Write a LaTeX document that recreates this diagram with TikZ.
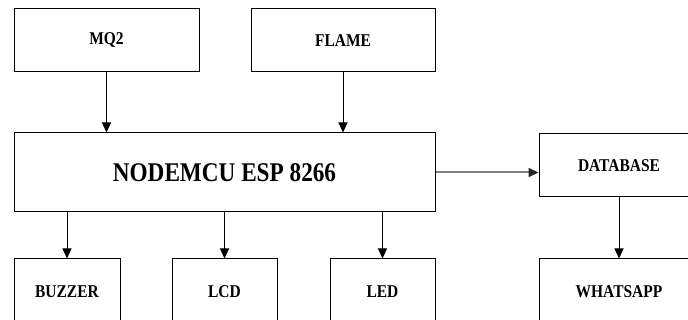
\documentclass[tikz,border=0pt]{standalone}
\usepackage{fontspec}
\setmainfont{Liberation Serif}[FakeStretch=0.86]
\usetikzlibrary{arrows.meta}
\begin{document}
\begin{tikzpicture}[x=1pt,y=-1pt,
  blk/.style={draw=black,line width=1pt,inner sep=0pt,
    font=\fontsize{18}{20}\selectfont\bfseries},
  arr/.style={-{Triangle[length=10pt,width=9pt]},line width=1pt,draw=black},
  garr/.style={-{Triangle[length=10pt,width=9pt,color=black!85,fill=black!85]},line width=2pt,draw=black!50}]
\useasboundingbox (0,0) rectangle (688,320);
\clip (0,0) rectangle (688,320);
\node[blk,minimum width=185pt,minimum height=63pt] (mq2) at (106.5,40.5) {MQ2};
\node[blk,minimum width=184pt,minimum height=63pt] (flame) at (343,40.5) {FLAME};
\node[blk,minimum width=421pt,minimum height=79pt,font=\fontsize{27}{30}\selectfont\bfseries] (mcu) at (224.5,172.5) {NODEMCU ESP 8266};
\node[blk,minimum width=106pt,minimum height=66pt] (buzzer) at (67,292) {BUZZER};
\node[blk,minimum width=105pt,minimum height=66pt] (lcd) at (224.5,292) {LCD};
\node[blk,minimum width=105pt,minimum height=66pt] (led) at (382.5,292) {LED};
\node[blk,minimum width=160pt,minimum height=63pt] (db) at (619,165.5) {DATABASE};
\node[blk,minimum width=160pt,minimum height=66pt] (wa) at (619,292) {WHATSAPP};
\draw[arr] (mq2.south) -- (mq2.south |- mcu.north);
\draw[arr] (flame.south) -- (flame.south |- mcu.north);
\draw[arr] (buzzer.north |- mcu.south) -- (buzzer.north);
\draw[arr] (lcd.north |- mcu.south) -- (lcd.north);
\draw[arr] (led.north |- mcu.south) -- (led.north);
\draw[garr] (mcu.east) -- (mcu.east -| db.west);
\draw[arr] (db.south) -- (wa.north);
\end{tikzpicture}
\end{document}
